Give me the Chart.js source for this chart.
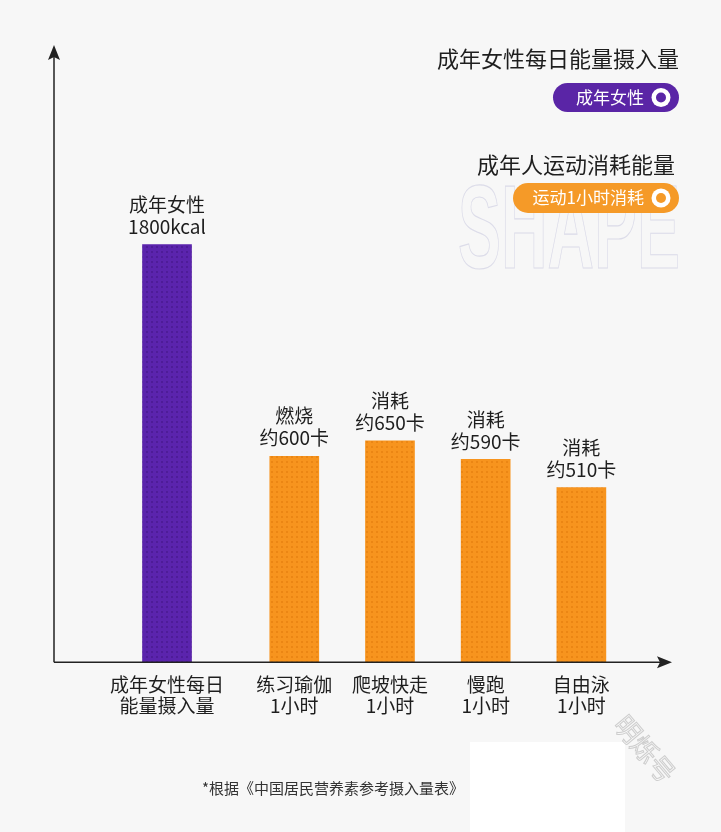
<!DOCTYPE html>
<html><head><meta charset="utf-8">
<script src="https://cdn.jsdelivr.net/npm/chart.js@4/dist/chart.umd.min.js"></script>
<style>html,body{margin:0;padding:0;background:#f7f7f7;}canvas{display:block}</style>
</head><body>
<canvas id="c" width="721" height="832"></canvas>
<script>
// ---- data ----
const categories = [['成年女性每日','能量摄入量'],['练习瑜伽','1小时'],['爬坡快走','1小时'],['慢跑','1小时'],['自由泳','1小时']];
const kcal = [1800, 600, 650, 590, 510];
const valueLabels = [['成年女性','1800kcal'],['燃烧','约600卡'],['消耗','约650卡'],['消耗','约590卡'],['消耗','约510卡']];
const groups = ['intake','burn','burn','burn','burn'];
const legendTitles = ['成年女性每日能量摄入量','成年人运动消耗能量'];
const legendItems = ['成年女性','运动1小时消耗'];
const footnote = '*根据《中国居民营养素参考摄入量表》';

// ---- layout / style ----
const GROUP_GAP = 0.33; // extra spacing (in category units) between the intake bar and the burn bars
const slot = i => i + (groups[i] === 'burn' ? GROUP_GAP : 0);
const FONT = '"Noto Sans CJK SC","Noto Sans",sans-serif';
const PURPLE = '#5b24ad', ORANGE = '#f7941e';
const canvas = document.getElementById('c');
const ctx = canvas.getContext('2d');

function makePattern(base, dot) {
  const t = document.createElement('canvas'); t.width = 5; t.height = 5;
  const g = t.getContext('2d');
  g.fillStyle = base; g.fillRect(0,0,5,5);
  g.fillStyle = dot; g.fillRect(1,1,2,2);
  return ctx.createPattern(t, 'repeat');
}
const patterns = { intake: makePattern(PURPLE, '#4e1c98'), burn: makePattern(ORANGE, '#eb8614') };

function roundRect(g, x, y, w, h, r) {
  g.beginPath();
  g.moveTo(x + r, y); g.lineTo(x + w - r, y);
  g.arc(x + w - r, y + r, r, -Math.PI/2, Math.PI/2);
  g.lineTo(x + r, y + h);
  g.arc(x + r, y + r, r, Math.PI/2, Math.PI*1.5);
  g.closePath();
}

const decor = {
  id: 'decor',
  beforeDraw(chart) {
    const g = chart.ctx;
    g.save();
    g.fillStyle = '#f7f7f7'; g.fillRect(0, 0, chart.width, chart.height);
    // SHAPE outline watermark
    g.font = 'bold 119px "Liberation Sans Narrow","Liberation Sans",sans-serif';
    const w = g.measureText('SHAPE').width;
    g.translate(458, 268);
    g.scale(222 / w, 1);
    g.strokeStyle = '#dcdce9'; g.lineWidth = 1.2;
    g.textBaseline = 'alphabetic'; g.textAlign = 'left';
    g.strokeText('SHAPE', 0, 0);
    g.restore();
  },
  afterDatasetsDraw(chart) {
    const g = chart.ctx, a = chart.chartArea;
    g.save();
    g.strokeStyle = '#222'; g.fillStyle = '#222'; g.lineWidth = 1.5;
    // y axis
    g.beginPath(); g.moveTo(a.left, a.bottom); g.lineTo(a.left, a.top + 10); g.stroke();
    g.beginPath(); g.moveTo(a.left, a.top); g.lineTo(a.left - 6, a.top + 15); g.lineTo(a.left, a.top + 12); g.lineTo(a.left + 6, a.top + 15); g.closePath(); g.fill();
    // x axis
    const xr = a.right + 7;
    g.beginPath(); g.moveTo(a.left, a.bottom); g.lineTo(xr - 10, a.bottom); g.stroke();
    g.beginPath(); g.moveTo(xr, a.bottom); g.lineTo(xr - 15, a.bottom - 6); g.lineTo(xr - 12, a.bottom); g.lineTo(xr - 15, a.bottom + 6); g.closePath(); g.fill();
    // value labels
    g.font = '19px ' + FONT; g.fillStyle = '#1e1e1e'; g.textAlign = 'center'; g.textBaseline = 'middle';
    chart.getDatasetMeta(0).data.forEach((el, i) => {
      const lines = valueLabels[i];
      lines.forEach((t, j) => g.fillText(t, el.x, el.y - 18 - (lines.length - 1 - j) * 22));
    });
    g.restore();
  },
  afterDraw(chart) {
    const g = chart.ctx;
    g.save();
    g.textBaseline = 'middle';
    // legend titles
    g.font = '22px ' + FONT; g.fillStyle = '#1e1e1e'; g.textAlign = 'right';
    g.fillText(legendTitles[0], 679, 59);
    g.fillText(legendTitles[1], 675, 165);
    // pills
    const pills = [{x:553, y:83, w:126, h:29, c:'#5a25a6', t:legendItems[0]}, {x:513, y:183, w:166, h:30, c:'#f59a28', t:legendItems[1]}];
    pills.forEach(p => {
      g.fillStyle = p.c; roundRect(g, p.x, p.y, p.w, p.h, p.h/2); g.fill();
      const cy = p.y + p.h/2, cx = p.x + p.w - 18;
      g.fillStyle = '#fff'; g.beginPath(); g.arc(cx, cy, 9.5, 0, Math.PI*2); g.fill();
      g.fillStyle = p.c; g.beginPath(); g.arc(cx, cy, 5, 0, Math.PI*2); g.fill();
      g.fillStyle = '#fff'; g.font = '17px ' + FONT; g.textAlign = 'right';
      g.fillText(p.t, cx - 17, cy);
    });
    // footnote
    g.font = '15px ' + FONT; g.fillStyle = '#333'; g.textAlign = 'left';
    g.fillText(footnote, 202, 788);
    // white block
    g.fillStyle = '#ffffff'; g.fillRect(470, 742, 155, 90);
    // rotated watermark
    g.translate(645, 749); g.rotate(50 * Math.PI / 180);
    g.font = '26px ' + FONT; g.textAlign = 'center';
    g.strokeStyle = '#cdcdcd'; g.lineWidth = 1;
    g.strokeText('明烁号', 0, 0);
    g.restore();
  }
};

new Chart(canvas, {
  type: 'bar',
  data: {
    datasets: [{
      data: kcal.map((v, i) => ({ x: slot(i), y: v })),
      backgroundColor: groups.map(gp => patterns[gp]),
      barThickness: 49,
      borderWidth: 0
    }]
  },
  options: {
    responsive: false,
    animation: false,
    devicePixelRatio: 1,
    layout: { padding: { left: 54, right: 56, top: 45, bottom: 104 } },
    plugins: { legend: { display: false }, tooltip: { enabled: false } },
    scales: {
      x: {
        type: 'linear', min: -1.181, max: 5.204, offset: false,
        grid: { display: false, drawTicks: false, offset: false }, border: { display: false },
        afterBuildTicks: s => { s.ticks = categories.map((_, i) => ({ value: slot(i) })); },
        ticks: {
          autoSkip: false, maxRotation: 0, padding: 12, color: '#1e1e1e',
          font: { family: FONT, size: 19, lineHeight: 1.1 },
          callback: (v, idx) => categories[idx]
        }
      },
      y: { type: 'logarithmic', min: 206, max: 5070, display: false }
    }
  },
  plugins: [decor]
});
</script>
</body></html>
